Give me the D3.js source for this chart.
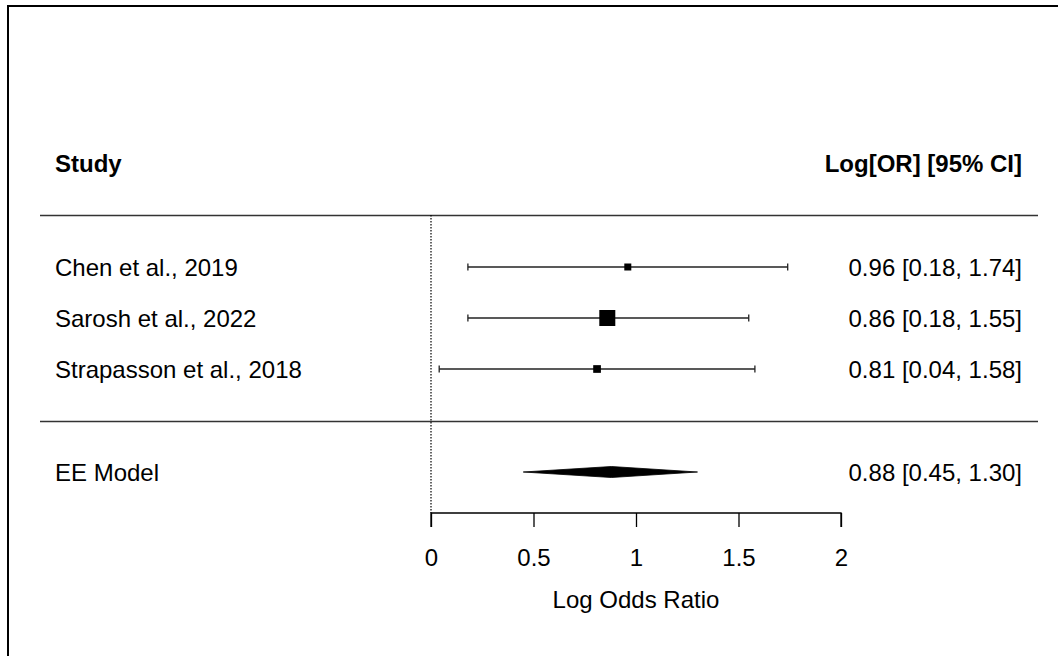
<!DOCTYPE html>
<html><head><meta charset="utf-8">
<script src="https://cdn.jsdelivr.net/npm/d3@7"></script>
<style>html,body{margin:0;padding:0;background:#fff;}svg{display:block;}</style>
</head><body>
<script>
const studies = ["Chen et al., 2019", "Sarosh et al., 2022", "Strapasson et al., 2018"];
const estimates = [0.96, 0.86, 0.81];
const lower = [0.18, 0.18, 0.04];
const upper = [1.74, 1.55, 1.58];
const weights = [30.1, 39.1, 30.8];
const modelLabel = "EE Model";
const modelEst = 0.88, modelLo = 0.45, modelHi = 1.30;
const xTicks = [0, 0.5, 1, 1.5, 2];
const headers = ["Study", "Log[OR] [95% CI]"];
const xTitle = "Log Odds Ratio";

const W = 1058, H = 656;
const svg = d3.select("body").append("svg").attr("width", W).attr("height", H)
  .style("font-family", "'Liberation Sans', Arial, sans-serif");

// frame
svg.append("line").attr("x1", 8).attr("x2", W).attr("y1", 6).attr("y2", 6).attr("stroke", "#000").attr("stroke-width", 2);
svg.append("line").attr("x1", 8).attr("x2", 8).attr("y1", 5).attr("y2", H).attr("stroke", "#000").attr("stroke-width", 2);

const x = d3.scaleLinear().domain([0, 2]).range([431, 841]);
const rowY = d3.scalePoint().domain(studies).range([267, 369]);
const modelY = 472;
const sz = d3.scaleLinear().domain(d3.extent(weights)).range([7, 16]);
const fs = 24;
const fmt = d3.format(".2f");

// header
svg.append("text").attr("x", 55).attr("y", 172).attr("font-size", fs).attr("font-weight", "bold").text(headers[0]);
svg.append("text").attr("x", 1022).attr("y", 172).attr("font-size", fs).attr("font-weight", "bold").attr("text-anchor", "end").text(headers[1]);

// horizontal rules
[215, 421].forEach(yy => svg.append("line").attr("x1", 40).attr("x2", 1038).attr("y1", yy + 0.5).attr("y2", yy + 0.5)
  .attr("stroke", "#333").attr("stroke-width", 1.3));

// reference dotted line
svg.append("line").attr("x1", x(0)).attr("x2", x(0)).attr("y1", 215).attr("y2", 513)
  .attr("stroke", "#000").attr("stroke-width", 1.2).attr("stroke-dasharray", "1.5,1.5");

// studies
studies.forEach((s, i) => {
  const y = rowY(s);
  const g = svg.append("g");
  g.append("line").attr("x1", x(lower[i])).attr("x2", x(upper[i])).attr("y1", y).attr("y2", y).attr("stroke", "#222").attr("stroke-width", 1.3);
  [lower[i], upper[i]].forEach(v => g.append("line").attr("x1", x(v)).attr("x2", x(v)).attr("y1", y - 3.5).attr("y2", y + 3.5).attr("stroke", "#222").attr("stroke-width", 1.3));
  const s2 = sz(weights[i]);
  g.append("rect").attr("x", x(estimates[i]) - s2 / 2).attr("y", y - s2 / 2).attr("width", s2).attr("height", s2).attr("fill", "#000");
  svg.append("text").attr("x", 55).attr("y", y + 8.6).attr("font-size", fs).text(s);
  svg.append("text").attr("x", 1022).attr("y", y + 8.6).attr("font-size", fs).attr("text-anchor", "end")
    .text(`${fmt(estimates[i])} [${fmt(lower[i])}, ${fmt(upper[i])}]`);
});

// model diamond
svg.append("polygon").attr("points", [
  [x(modelLo), modelY], [x(modelEst), modelY - 5.5], [x(modelHi), modelY], [x(modelEst), modelY + 5.5]
].map(p => p.join(",")).join(" ")).attr("fill", "#000").attr("stroke", "#000").attr("stroke-width", 0.8);
svg.append("text").attr("x", 55).attr("y", modelY + 8.6).attr("font-size", fs).text(modelLabel);
svg.append("text").attr("x", 1022).attr("y", modelY + 8.6).attr("font-size", fs).attr("text-anchor", "end")
  .text(`${fmt(modelEst)} [${fmt(modelLo)}, ${fmt(modelHi)}]`);

// axis
const axis = d3.axisBottom(x).tickValues(xTicks).tickSize(14).tickPadding(22).tickFormat(d => d3.format("")(d));
const ag = svg.append("g").attr("transform", "translate(0,513)").call(axis);
ag.select(".domain").attr("d", `M${x(0)},14V0H${x(2)}V14`).attr("stroke", "#000").attr("stroke-width", 1.3);
ag.selectAll(".tick line").attr("stroke", "#000").attr("stroke-width", 1.3);
ag.selectAll(".tick text").attr("font-size", fs).attr("font-family", "'Liberation Sans', Arial, sans-serif").attr("fill", "#000");
svg.append("text").attr("x", x(1)).attr("y", 608).attr("font-size", fs).attr("text-anchor", "middle").text(xTitle);
</script>
</body></html>
